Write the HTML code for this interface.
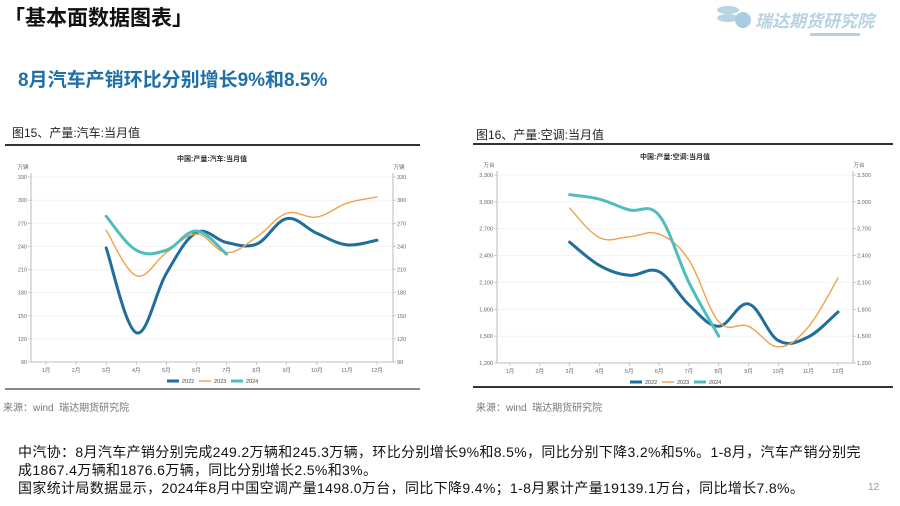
<!DOCTYPE html>
<html><head><meta charset="utf-8">
<style>
body{margin:0;width:900px;height:506px;background:#fff;font-family:"Liberation Sans","Noto Sans CJK SC",sans-serif;overflow:hidden;position:relative}
.a{position:absolute;white-space:nowrap}
</style></head><body>
<div class="a" style="left:4px;top:2px;font-size:21px;font-weight:bold;color:#111">「基本面数据图表」</div>
<div class="a" style="left:715px;top:2px;width:170px;height:34px">
  <div style="position:absolute;left:2px;top:4px;width:22px;height:8px;border-radius:50%;background:#b8d4e4"></div>
  <div style="position:absolute;left:2px;top:12px;width:22px;height:8px;border-radius:50%;background:#b8d4e4"></div>
  <div style="position:absolute;left:20px;top:10px;width:16px;height:16px;border-radius:50%;background:#a9cde0"></div>
  <div class="a" style="left:40px;top:5px;font-size:17px;font-style:italic;font-weight:bold;color:#b5d2e3">瑞达期货研究院</div>
  <div style="position:absolute;left:95px;top:31px;width:50px;height:3px;background:#b5d2e3"></div>
</div>
<div class="a" style="left:18px;top:65px;font-size:19px;font-weight:bold;color:#1f6fa8">8月汽车产销环比分别增长9%和8.5%</div>
<div class="a" style="left:12px;top:124px;font-size:12px;color:#222">图15、产量:汽车:当月值</div>
<div class="a" style="left:476px;top:126px;font-size:12px;color:#222">图16、产量:空调:当月值</div>
<div class="a" style="left:3px;top:399px;font-size:10px;color:#777">来源：wind&nbsp;&nbsp;瑞达期货研究院</div>
<div class="a" style="left:476px;top:399px;font-size:10px;color:#777">来源：wind&nbsp;&nbsp;瑞达期货研究院</div>
<div class="a" style="left:18px;top:443px;font-size:14px;line-height:18px;letter-spacing:0.35px;color:#111">中汽协：8月汽车产销分别完成249.2万辆和245.3万辆，环比分别增长9%和8.5%，同比分别下降3.2%和5%。1-8月，汽车产销分别完<br>成1867.4万辆和1876.6万辆，同比分别增长2.5%和3%。<br>国家统计局数据显示，2024年8月中国空调产量1498.0万台，同比下降9.4%；1-8月累计产量19139.1万台，同比增长7.8%。</div>
<div class="a" style="left:868px;top:482px;font-size:10px;color:#999">12</div>
<svg id="s" width="900" height="506" style="position:absolute;left:0;top:0"></svg>
<script>
const months=["1月","2月","3月","4月","5月","6月","7月","8月","9月","10月","11月","12月"];
const carTicks=[90,120,150,180,210,240,270,300,330];
const car2022=[null,null,238,128,205,258,245,243,276,257,242,248];
const car2023=[null,null,261,202,232,256,232,252,283,278,296,304];
const car2024=[null,null,279,235,235,260,230];
const acTicks=[1200,1500,1800,2100,2400,2700,3000,3300];
const ac2022=[null,null,2550,2290,2180,2220,1850,1610,1860,1450,1490,1770];
const ac2023=[null,null,2930,2600,2610,2640,2350,1660,1610,1380,1600,2150];
const ac2024=[null,null,3080,3030,2910,2850,2100,1500];
const years=["2022","2023","2024"];
const colors=["#1f6e9c","#f0a24a","#4fbdbb"];
const widths=[3,1.4,3];
const svg=document.getElementById('s');const NS='http://www.w3.org/2000/svg';
function el(t,a,p){const e=document.createElementNS(NS,t);for(const k in a)e.setAttribute(k,a[k]);(p||svg).appendChild(e);return e;}
function txt(x,y,s,size,anchor,fill,p,w){const e=el('text',{x:x,y:y,'font-size':size,'text-anchor':anchor,fill:fill,'font-family':'Liberation Sans,Noto Sans CJK SC,sans-serif'},p);if(w)e.setAttribute('font-weight',w);e.textContent=s;return e;}
function smooth(pts){let d='M'+pts[0][0]+','+pts[0][1];for(let i=0;i<pts.length-1;i++){const p0=pts[i-1]||pts[i],p1=pts[i],p2=pts[i+1],p3=pts[i+2]||p2;const t=0.18;d+=' C'+(p1[0]+(p2[0]-p0[0])*t)+','+(p1[1]+(p2[1]-p0[1])*t)+' '+(p2[0]-(p3[0]-p1[0])*t)+','+(p2[1]-(p3[1]-p1[1])*t)+' '+p2[0]+','+p2[1];}return d;}
function chart(c){
  const g=el('g',{});
  
  
  el('line',{x1:c.frame[0],x2:c.frame[1],y1:c.frameY[0],y2:c.frameY[0],stroke:'#333','stroke-width':2},g);
  el('line',{x1:c.frame[0],x2:c.frame[1],y1:c.frameY[1],y2:c.frameY[1],stroke:c.botCol,'stroke-width':2},g);
  const t=txt((c.L+c.R)/2,c.top-16,c.title,7,'middle','#333',g,'bold');
  
  const mn=c.ticks[0],mx=c.ticks[c.ticks.length-1];
  const y=v=>c.bot-(v-mn)/(mx-mn)*(c.bot-c.top);
  const x=i=>c.x0+i*(c.x1-c.x0)/11;
  txt(c.L-8,c.top-8,c.unit,5.5,'middle','#666',g);txt(c.R+6,c.top-8,c.unit,5.5,'middle','#666',g);
  c.ticks.forEach(v=>{const yy=y(v);
    if(v!==mn)el('line',{x1:c.L,x2:c.R,y1:yy,y2:yy,stroke:'#f0f0f0','stroke-width':0.7},g);
    el('line',{x1:c.L-3,x2:c.L,y1:yy,y2:yy,stroke:'#aaa','stroke-width':0.6},g);
    el('line',{x1:c.R,x2:c.R+3,y1:yy,y2:yy,stroke:'#aaa','stroke-width':0.6},g);
    const lab=c.fmt(v);txt(c.L-4,yy+2,lab,5.5,'end','#666',g);txt(c.R+4,yy+2,lab,5.5,'start','#666',g);});
  el('line',{x1:c.L,x2:c.L,y1:c.top-4,y2:c.bot,stroke:'#aaa','stroke-width':0.8},g);
  el('line',{x1:c.R,x2:c.R,y1:c.top-4,y2:c.bot,stroke:'#aaa','stroke-width':0.8},g);
  el('line',{x1:c.L,x2:c.R,y1:c.bot,y2:c.bot,stroke:'#aaa','stroke-width':0.8},g);
  months.forEach((m,i)=>{el('line',{x1:x(i),x2:x(i),y1:c.bot,y2:c.bot+3,stroke:'#aaa','stroke-width':0.6},g);txt(x(i),c.bot+10,m,5.5,'middle','#666',g);});
  c.series.forEach((s,k)=>{const pts=[];s.forEach((v,i)=>{if(v!=null)pts.push([x(i),y(v)]);});
    const p=el('path',{d:smooth(pts),fill:'none',stroke:colors[k],'stroke-width':widths[k],'stroke-linecap':'round'},g);
    });
  const lx=(c.L+c.R)/2-45;
  years.forEach((yr,k)=>{const lg=el('g',{},g);
    
    const xx=lx+k*32;el('line',{x1:xx,x2:xx+12,y1:c.bot+19,y2:c.bot+19,stroke:colors[k],'stroke-width':widths[k]},lg);
    txt(xx+15,c.bot+21,yr,5.5,'start','#444',lg);});
}
chart({name:'car-production-chart',title:'中国:产量:汽车:当月值',unit:'万辆',ticks:carTicks,fmt:v=>String(v),series:[car2022,car2023,car2024],L:31,R:393,x0:46,x1:377,top:177,bot:362,frame:[5,420],frameY:[145,389],botCol:'#888'});
chart({name:'ac-production-chart',title:'中国:产量:空调:当月值',unit:'万台',ticks:acTicks,fmt:v=>v.toLocaleString('en-US'),series:[ac2022,ac2023,ac2024],L:497,R:853,x0:510,x1:838,top:175,bot:363,frame:[473,893],frameY:[144,387],botCol:'#333'});
</script>
</body></html>
